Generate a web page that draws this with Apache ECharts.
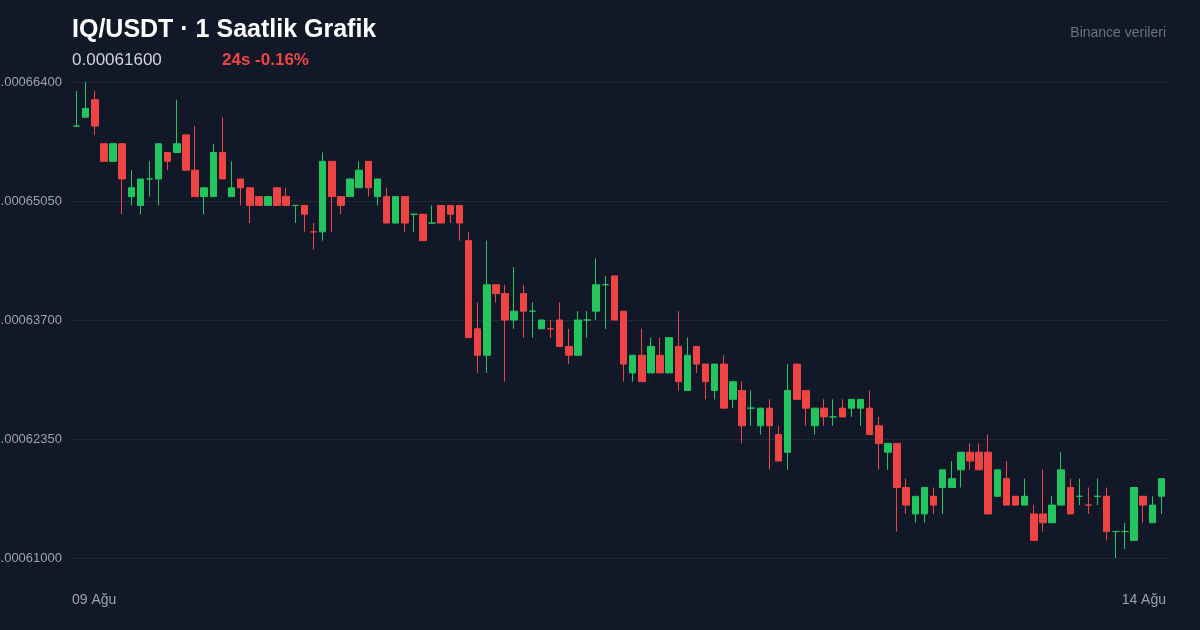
<!DOCTYPE html>
<html>
<head>
<meta charset="utf-8">
<script src="https://cdn.jsdelivr.net/npm/echarts@6/dist/echarts.min.js"></script>
<style>
html, body { margin: 0; padding: 0; background: #111827; }
#chart { width: 1200px; height: 630px; }
</style>
</head>
<body>
<div id="chart"></div>
<script>
// prices in units of 1e-6 USDT: [open, close, low, high]
var candles = [
	[659,659,659,663],[660,661,660,664],[662,659,658,663],[657,655,655,657],[655,657,655,657],
	[657,653,649,657],[651,652,650,654],[650,653,649,653],[653,653,651,655],[653,657,650,657],
	[656,655,654,656],[656,657,656,662],[658,654,654,658],[654,651,651,659],[651,652,649,652],
	[651,656,651,657],[656,653,653,660],[651,652,651,655],[653,652,650,653],[652,650,648,652],
	[651,650,650,651],[650,651,650,651],[652,650,650,652],[651,650,650,652],[650,650,648,650],
	[650,649,647,650],[647,647,645,648],[647,655,646,656],[655,651,647,655],[651,650,649,651],
	[651,653,651,653],[652,654,652,655],[655,652,651,655],[651,653,650,653],[651,648,648,652],
	[648,651,648,651],[651,648,647,651],[649,649,647,649],[649,646,646,649],[648,648,648,650],
	[650,648,648,650],[650,649,648,650],[650,648,646,650],[646,635,635,647],[636,633,631,639],
	[633,641,631,646],[641,640,639,641],[640,637,630,641],[637,638,636,643],[640,638,635,641],
	[638,638,635,639],[636,637,636,637],[636,636,635,637],[637,634,634,639],[634,633,632,636],
	[633,637,633,638],[637,637,635,638],[638,641,637,644],[641,641,636,642],[642,637,637,642],
	[638,632,630,638],[631,633,630,633],[633,630,630,636],[631,634,631,635],[633,631,631,635],
	[631,635,631,635],[634,630,629,638],[629,633,629,635],[634,632,631,634],[632,630,628,632],
	[629,632,628,632],[632,627,627,633],[628,630,627,630],[629,625,623,630],[627,627,625,629],
	[625,627,624,627],[627,625,620,628],[624,621,621,625],[622,629,620,632],[632,628,628,632],
	[629,627,625,629],[625,627,624,627],[627,626,625,628],[626,626,625,628],[627,626,626,628],
	[627,628,626,628],[627,628,625,628],[627,624,624,629],[625,623,620,626],[622,623,620,623],
	[623,618,613,623],[618,616,615,619],[615,617,614,617],[615,618,614,618],[617,616,615,618],
	[618,620,615,620],[618,619,618,621],[620,622,618,622],[622,621,620,623],[622,620,620,623],
	[622,615,615,624],[617,620,617,620],[619,616,616,621],[617,616,616,617],[616,617,616,619],
	[615,612,612,616],[615,614,613,620],[614,616,614,617],[616,620,616,622],[618,615,615,619],
	[617,617,616,619],[616,616,615,618],[617,617,616,619],[617,613,612,618],[613,613,610,613],
	[613,613,611,614],[612,618,612,618],[617,616,614,617],[614,616,614,617],[617,619,615,619]
];
var yTicks = [0.00061000, 0.00062350, 0.00063700, 0.00065050, 0.00066400];
var xEndLabels = ['09 Ağu', '14 Ağu'];

var categories = [];
for (var i = 0; i < candles.length; i++) categories.push('h' + i);
var seriesData = candles.map(function(c) {
	return c.map(function(v) { return v / 1e6; });
});

var FONT = '"Liberation Sans", Arial, sans-serif';
var chart = echarts.init(document.getElementById('chart'));
chart.setOption({
	backgroundColor: '#111827',
	animation: false,
	title: [{
		text: 'IQ/USDT · 1 Saatlik Grafik', left: 72, top: 18, padding: 0,
		textStyle: { color: '#ffffff', fontSize: 25, fontWeight: 'bold', fontFamily: FONT }
	}, {
		text: 'Binance verileri', right: 34, top: 26, padding: 0,
		textStyle: { color: '#6b7280', fontSize: 14, fontWeight: 'normal', fontFamily: FONT }
	}],
	graphic: [{
		type: 'text', left: 72, top: 52,
		style: { text: '0.00061600', fill: '#d1d5db', font: '17px ' + FONT }
	}, {
		type: 'text', left: 222, top: 52,
		style: { text: '24s -0.16%', fill: '#ef4444', font: 'bold 17px ' + FONT }
	}],
	grid: { left: 72, right: 34, top: 82, bottom: 72, outerBoundsMode: 'none', containLabel: false },
	xAxis: [{
		type: 'category', data: categories, boundaryGap: true,
		axisLine: { show: false }, axisTick: { show: false }, splitLine: { show: false },
		axisLabel: { show: false }
	}, {
		type: 'category', data: categories, boundaryGap: false, position: 'bottom',
		axisLine: { show: false }, axisTick: { show: false }, splitLine: { show: false },
		axisLabel: {
			color: '#9ca3af', fontSize: 14, margin: 35, fontFamily: FONT,
			interval: function(idx) { return idx === 0 || idx === categories.length - 1; },
			formatter: function(v, idx) { return idx === 0 ? xEndLabels[0] : xEndLabels[1]; },
			alignMinLabel: 'left', alignMaxLabel: 'right'
		}
	}],
	yAxis: {
		type: 'value', min: yTicks[0], max: yTicks[yTicks.length - 1], interval: 0.0000135,
		axisLine: { show: false }, axisTick: { show: false },
		splitLine: { lineStyle: { color: '#1f2937', width: 1 } },
		axisLabel: {
			color: '#9ca3af', fontSize: 13, margin: 10, fontFamily: FONT,
			formatter: function(v) { return v.toFixed(8); }
		}
	},
	series: [{
		type: 'candlestick', data: seriesData, barWidth: 7, xAxisIndex: 0,
		itemStyle: {
			color: '#22c55e', color0: '#ef4444',
			borderColor: '#22c55e', borderColor0: '#ef4444', borderWidth: 1
		}
	}]
});
</script>
</body>
</html>
